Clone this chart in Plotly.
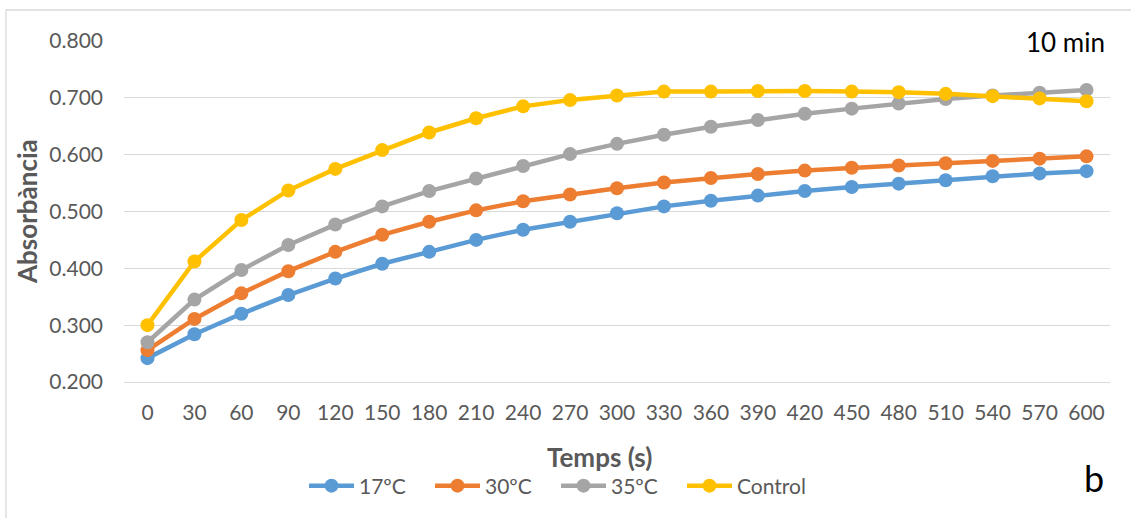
import plotly.graph_objects as go

times = [0, 30, 60, 90, 120, 150, 180, 210, 240, 270, 300, 330, 360, 390, 420, 450, 480, 510, 540, 570, 600]
tick_labels = [str(t) for t in times]

s17 = [0.242, 0.284, 0.320, 0.353, 0.382, 0.408, 0.429, 0.450, 0.468, 0.482, 0.497, 0.509, 0.519, 0.528, 0.536, 0.543, 0.549, 0.555, 0.562, 0.567, 0.571]
s30 = [0.256, 0.311, 0.356, 0.395, 0.429, 0.459, 0.482, 0.502, 0.518, 0.530, 0.541, 0.551, 0.559, 0.566, 0.572, 0.577, 0.581, 0.585, 0.589, 0.593, 0.597]
s35 = [0.270, 0.345, 0.397, 0.441, 0.477, 0.509, 0.536, 0.558, 0.580, 0.601, 0.619, 0.635, 0.649, 0.661, 0.672, 0.681, 0.690, 0.698, 0.704, 0.709, 0.714]
control = [0.300, 0.412, 0.485, 0.537, 0.575, 0.608, 0.639, 0.664, 0.685, 0.696, 0.704, 0.711, 0.711, 0.712, 0.712, 0.711, 0.710, 0.707, 0.703, 0.699, 0.694]

series = [("17ºC", s17, "#5B9BD5"), ("30ºC", s30, "#ED7D31"), ("35ºC", s35, "#A5A5A5"), ("Control", control, "#FFC000")]

FONT = "Lato, 'Open Sans', sans-serif"
GREY = "#595959"

fig = go.Figure()
for name, vals, col in series:
    fig.add_trace(go.Scatter(x=times, y=vals, name=name, mode="lines+markers",
                             line=dict(color=col, width=4.5),
                             marker=dict(color=col, size=14)))

W, H = 1131, 518
L, R, T, B = 124, 21, 41, 136
pw, ph = W - L - R, H - T - B

def px(x):
    return (x - L) / pw

def py(y):
    return (H - B - y) / ph

fig.update_layout(
    width=W, height=H,
    margin=dict(l=L, r=R, t=T, b=B),
    paper_bgcolor="white", plot_bgcolor="white",
    font=dict(family=FONT, color=GREY, size=21),
    showlegend=True,
    legend=dict(orientation="h", x=px(556), xanchor="center", y=py(486), yanchor="middle",
                font=dict(size=21, color=GREY), itemwidth=45, tracegroupgap=0,
                entrywidth=66, entrywidthmode="pixels",
                bgcolor="rgba(0,0,0,0)"),
    xaxis=dict(range=[-15, 615], tickvals=times, ticktext=tick_labels, showgrid=False,
               zeroline=False, showline=True, linecolor="#D9D9D9", linewidth=1.3,
               ticks="", ticklabelstandoff=12, tickfont=dict(size=21, color=GREY)),
    yaxis=dict(range=[0.2, 0.8], dtick=0.1, tickformat=".3f", showgrid=True,
               gridcolor="#D9D9D9", gridwidth=1.3, zeroline=False, showline=False,
               ticks="", ticklabelstandoff=20, tickfont=dict(size=21, color=GREY)),
    annotations=[
        dict(text="<b>Absorbància</b>", x=px(27), y=py(212), xref="paper", yref="paper",
             textangle=-90, showarrow=False, font=dict(size=26, color=GREY),
             xanchor="center", yanchor="middle"),
        dict(text="<b>Temps (s)</b>", x=px(599), y=py(457), xref="paper", yref="paper",
             showarrow=False, font=dict(size=26, color=GREY), xanchor="center", yanchor="middle"),
        dict(text="10 min", x=px(1107), y=py(42), xref="paper", yref="paper",
             showarrow=False, font=dict(size=26, color="black"), xanchor="right", yanchor="middle"),
        dict(text="b", x=px(1094), y=py(478), xref="paper", yref="paper",
             showarrow=False, font=dict(size=36, color="black"), xanchor="center", yanchor="middle"),
    ],
    shapes=[dict(type="rect", xref="paper", yref="paper", x0=px(6), x1=px(1150), y0=py(540), y1=py(10),
                 line=dict(color="#D9D9D9", width=1.3), fillcolor="rgba(0,0,0,0)", layer="below")],
)

fig.write_html("out.html", config={"displayModeBar": False},
               post_script="document.body.style.margin='0px';")
